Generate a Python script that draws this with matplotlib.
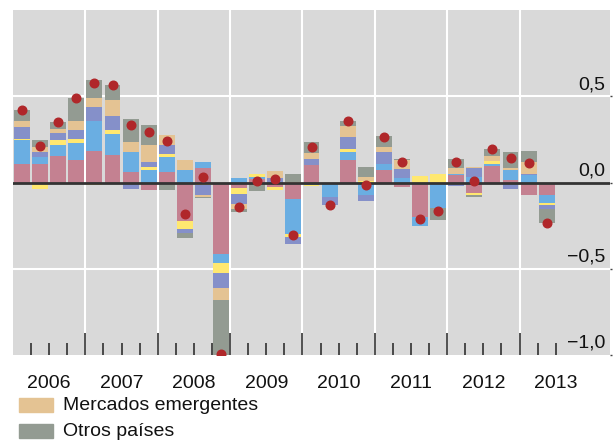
import numpy as np
import matplotlib
matplotlib.use("Agg")
from matplotlib import pyplot as plt
from matplotlib.patches import Rectangle
from matplotlib.transforms import blended_transform_factory, offset_copy

plt.rcParams['font.family'] = ['Liberation Sans', 'DejaVu Sans']

# - Data (quarterly contributions, 2006 Q1 .. 2013 Q2)

years = ["2006", "2007", "2008", "2009", "2010", "2011", "2012", "2013"]

serie_rosa = [0.11, 0.105, 0.156, 0.129, 0.18, 0.157, 0.059, -0.045, 0.059, -0.223,
              0.082, -0.413, -0.033, 0.018, -0.027, -0.096, 0.1, 0.0, 0.129, -0.01,
              0.071, -0.027, -0.2, 0.0, 0.045, -0.063, 0.094, 0.013, -0.073, -0.073]
serie_azul = [0.134, 0.041, 0.059, 0.098, 0.179, 0.127, 0.116, 0.071, 0.087, 0.071,
              0.035, -0.052, 0.025, 0.013, 0.0, -0.202, -0.015, -0.085, 0.046, -0.065,
              0.034, 0.025, -0.05, -0.15, 0.005, 0.03, 0.011, 0.058, 0.045, -0.045]
serie_amarilla = [0.011, -0.039, 0.029, 0.023, -0.016, 0.018, 0.0, 0.017, 0.017, -0.046,
                  -0.016, -0.058, -0.034, 0.017, -0.015, -0.017, -0.005, 0.0, 0.017, 0.01,
                  0.0, 0.0, 0.036, 0.048, 0.0, -0.01, 0.018, 0.0, 0.0, -0.013]
serie_violeta = [0.064, 0.029, 0.042, 0.052, 0.081, 0.086, -0.039, 0.029, 0.052, -0.023,
                 -0.057, -0.086, -0.058, -0.008, 0.025, -0.041, 0.034, -0.045, 0.069, -0.03,
                 0.07, 0.052, 0.0, 0.0, -0.022, 0.052, 0.0, -0.039, 0.005, -0.023]
emergentes = [0.04, 0.028, 0.027, 0.052, 0.052, 0.092, 0.057, 0.098, 0.062, 0.058,
              -0.01, -0.075, -0.029, 0.0, 0.04, 0.005, 0.035, 0.0, 0.064, 0.02,
              0.028, 0.052, 0.0, 0.0, 0.032, 0.006, 0.029, 0.011, 0.067, 0.0]
otros = [0.064, 0.041, 0.035, 0.138, 0.104, 0.087, 0.138, 0.121, -0.045, -0.029,
         -0.007, -0.316, -0.015, -0.04, 0.0, 0.043, 0.063, 0.0, 0.029, 0.06,
         0.064, 0.006, 0.0, -0.068, 0.052, -0.01, 0.04, 0.093, 0.065, -0.079]

total = [0.42, 0.21, 0.348, 0.488, 0.578, 0.567, 0.332, 0.294, 0.242, -0.185,
         0.03, -0.995, -0.142, 0.006, 0.023, -0.306, 0.205, -0.13, 0.354, -0.014,
         0.261, 0.117, -0.212, -0.166, 0.121, 0.007, 0.194, 0.142, 0.113, -0.233]

series = [serie_rosa, serie_azul, serie_amarilla, serie_violeta, emergentes, otros]
colors = ["#C48191", "#6AAEE2", "#FFE870", "#8590C9", "#E4C393", "#939B92"]

y_ticks = [0.5, 0.0, -0.5, -1.0]
y_labels = ["0,5", "0,0", "\u22120,5", "\u22121,0"]

# - Figure

fig = plt.figure(figsize=(6.14, 4.41), dpi=100)
ax = fig.add_axes([13 / 614, 1 - 355 / 441, 597 / 614, 345 / 441])
ax.set_facecolor("#D9D9D9")

n = len(total)
x = np.arange(n) + 0.5
pos_base = np.zeros(n)
neg_base = np.zeros(n)
for vals, col in zip(series, colors):
    vals = np.array(vals)
    pos = np.where(vals > 0, vals, 0)
    neg = np.where(vals < 0, vals, 0)
    ax.bar(x, pos, 0.88, bottom=pos_base, color=col, zorder=2)
    ax.bar(x, neg, 0.88, bottom=neg_base, color=col, zorder=2)
    pos_base += pos
    neg_base += neg

ax.plot(x, total, "o", color="#B0272A", ms=6.2, zorder=4)
ax.axhline(0, color="#333333", lw=2, zorder=3)

# grid
for yv in [0.5, -0.5]:
    ax.axhline(yv, color="white", lw=1.5, zorder=1)
for k in range(1, len(years)):
    ax.axvline(4 * k, color="white", lw=1.5, zorder=1)

ax.set_xlim(0, 33)
ax.set_ylim(-1.0, 1.0)
for s in ax.spines.values():
    s.set_visible(False)

# bottom ticks inside
ax.set_xticks([4 * k for k in range(1, len(years))])
ax.set_xticks([q for q in range(1, n + 1) if q % 4 != 0], minor=True)
ax.tick_params(axis="x", which="major", direction="in", length=16, width=1.1,
               color="#222222", labelbottom=False)
ax.tick_params(axis="x", which="minor", direction="in", length=8.5, width=1.1,
               color="#222222")

# right ticks outside, labels inside
ax.yaxis.tick_right()
ax.set_yticks(y_ticks)
ax.tick_params(axis="y", direction="out", length=1.5, width=1, color="#444444",
               labelright=False, labelleft=False)
trans = offset_copy(blended_transform_factory(ax.transAxes, ax.transData),
                    fig=fig, x=-5, y=3, units="dots")
for yv, lab in zip(y_ticks, y_labels):
    ax.text(1.0, yv, lab, transform=trans, ha="right", va="bottom",
            fontsize=14, color="#111111")

# year labels
tx = blended_transform_factory(ax.transData, fig.transFigure)
for k, yr in enumerate(years):
    ax.text(4 * k + 2, 1 - 383 / 441, yr, transform=tx, ha="center", va="center",
            fontsize=14, color="#111111")

# legend
for lab, col, yc in [("Mercados emergentes", colors[4], 405),
                     ("Otros países", colors[5], 431)]:
    fig.patches.append(Rectangle((19 / 614, 1 - (yc + 7) / 441), 34 / 614, 14 / 441,
                                 transform=fig.transFigure, color=col))
    fig.text(63 / 614, 1 - yc / 441, lab, ha="left", va="center", fontsize=14,
             color="#111111")

fig.savefig("out.png", dpi=100)
